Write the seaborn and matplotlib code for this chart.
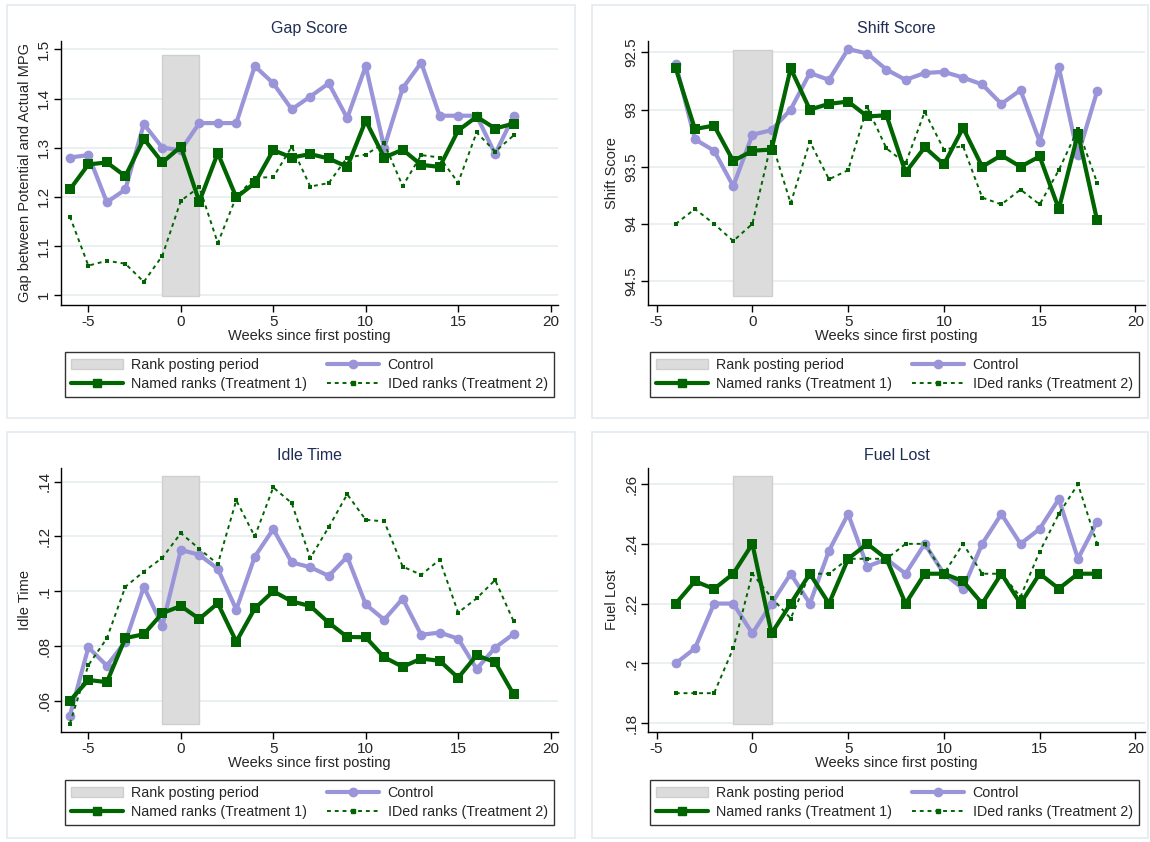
import numpy as np
import pandas as pd
import seaborn as sns
import matplotlib.pyplot as plt
from matplotlib.patches import Rectangle, Patch
from matplotlib.lines import Line2D

# Data
weeks_long = list(range(-6, 19))   # Gap Score, Idle Time
weeks_short = list(range(-4, 19))  # Shift Score, Fuel Lost

gap_control = [1.280, 1.285, 1.189, 1.215, 1.348, 1.300, 1.295, 1.350, 1.350, 1.350, 1.466, 1.431,
               1.378, 1.404, 1.431, 1.360, 1.466, 1.300, 1.421, 1.473, 1.365, 1.365, 1.365, 1.287, 1.365]
gap_named = [1.215, 1.266, 1.270, 1.242, 1.318, 1.270, 1.302, 1.190, 1.289, 1.199, 1.228, 1.295,
             1.280, 1.287, 1.278, 1.261, 1.355, 1.280, 1.296, 1.265, 1.261, 1.335, 1.363, 1.339, 1.349]
gap_ided = [1.160, 1.060, 1.070, 1.064, 1.027, 1.080, 1.192, 1.220, 1.106, 1.200, 1.239, 1.240,
            1.302, 1.221, 1.228, 1.280, 1.286, 1.309, 1.222, 1.285, 1.280, 1.229, 1.331, 1.292, 1.325]

shift_control = [92.60, 93.26, 93.36, 93.67, 93.22, 93.18, 93.00, 92.68, 92.74, 92.47, 92.51, 92.65,
                 92.74, 92.68, 92.67, 92.72, 92.78, 92.95, 92.83, 93.28, 92.63, 93.40, 92.84]
shift_named = [92.64, 93.17, 93.14, 93.45, 93.36, 93.35, 92.64, 93.00, 92.95, 92.93, 93.06, 93.05,
               93.55, 93.33, 93.48, 93.16, 93.50, 93.40, 93.50, 93.41, 93.87, 93.21, 93.97]
shift_ided = [94.00, 93.87, 94.00, 94.15, 94.00, 93.28, 93.82, 93.28, 93.61, 93.53, 92.98, 93.34,
              93.47, 93.02, 93.35, 93.32, 93.77, 93.83, 93.70, 93.83, 93.53, 93.17, 93.64]

idle_control = [0.0546, 0.0795, 0.0728, 0.0816, 0.1016, 0.0874, 0.1151, 0.1133, 0.1082, 0.0933, 0.1126, 0.1227,
                0.1105, 0.1088, 0.1056, 0.1126, 0.0952, 0.0896, 0.0973, 0.0841, 0.0849, 0.0827, 0.0716, 0.0794, 0.0844]
idle_named = [0.0600, 0.0676, 0.0668, 0.0829, 0.0843, 0.0920, 0.0946, 0.0899, 0.0956, 0.0816, 0.0937, 0.1000,
              0.0963, 0.0946, 0.0885, 0.0833, 0.0832, 0.0759, 0.0724, 0.0754, 0.0746, 0.0684, 0.0766, 0.0741, 0.0623]
idle_ided = [0.0517, 0.0730, 0.0828, 0.1016, 0.1072, 0.1122, 0.1212, 0.1155, 0.1099, 0.1332, 0.1200, 0.1379,
             0.1322, 0.1121, 0.1234, 0.1354, 0.1261, 0.1255, 0.1090, 0.1060, 0.1115, 0.0922, 0.0974, 0.1041, 0.0890]

fuel_control = [0.200, 0.205, 0.220, 0.220, 0.210, 0.220, 0.230, 0.220, 0.2377, 0.250, 0.2324, 0.2349,
                0.230, 0.240, 0.230, 0.225, 0.240, 0.250, 0.240, 0.245, 0.255, 0.235, 0.2474]
fuel_named = [0.220, 0.2275, 0.2249, 0.230, 0.240, 0.210, 0.220, 0.230, 0.220, 0.235, 0.240, 0.235,
              0.220, 0.230, 0.230, 0.2275, 0.220, 0.230, 0.220, 0.230, 0.225, 0.230, 0.230]
fuel_ided = [0.190, 0.190, 0.190, 0.205, 0.230, 0.222, 0.215, 0.230, 0.230, 0.235, 0.235, 0.235,
             0.240, 0.240, 0.230, 0.240, 0.230, 0.230, 0.2223, 0.2374, 0.250, 0.260, 0.240]

posting_period = [-1, 1]

panels = [
    dict(title='Gap Score', ylabel='Gap between Potential and Actual MPG', weeks=weeks_long,
         control=gap_control, named=gap_named, ided=gap_ided,
         yticks=[1, 1.1, 1.2, 1.3, 1.4, 1.5], yticklabels=['1', '1.1', '1.2', '1.3', '1.4', '1.5'],
         ylim=(0.980, 1.517), band=(0.9986, 1.4885), xlim=(-6.48, 20.4)),
    dict(title='Shift Score', ylabel='Shift Score', weeks=weeks_short,
         control=shift_control, named=shift_named, ided=shift_ided,
         yticks=[92.5, 93, 93.5, 94, 94.5], yticklabels=['92.5', '93', '93.5', '94', '94.5'],
         ylim=(94.71, 92.40), band=(92.477, 94.628), xlim=(-5.45, 20.5)),
    dict(title='Idle Time', ylabel='Idle Time', weeks=weeks_long,
         control=idle_control, named=idle_named, ided=idle_ided,
         yticks=[0.06, 0.08, 0.10, 0.12, 0.14], yticklabels=['.06', '.08', '.1', '.12', '.14'],
         ylim=(0.0486, 0.145), band=(0.0517, 0.142), xlim=(-6.48, 20.4)),
    dict(title='Fuel Lost', ylabel='Fuel Lost', weeks=weeks_short,
         control=fuel_control, named=fuel_named, ided=fuel_ided,
         yticks=[0.18, 0.20, 0.22, 0.24, 0.26], yticklabels=['.18', '.2', '.22', '.24', '.26'],
         ylim=(0.177, 0.2654), band=(0.1798, 0.2628), xlim=(-5.45, 20.5)),
]

sns.set_theme(style='white')
plt.rcParams['font.family'] = ['Liberation Sans', 'DejaVu Sans']

W, H = 1150, 842
fig = plt.figure(figsize=(11.5, 8.42), dpi=100)

CONTROL = '#9a94d8'
GREEN = '#006400'
BAND = '#dcdcdc'
GRID = '#e6eef0'
TITLE = '#1e2d53'
FS = 10.5

# panel frames (pixels: left, top, right, bottom)
frames = [(7, 5, 575, 418), (592, 5, 1148, 418), (7, 432, 575, 838), (592, 432, 1148, 838)]
# plot areas (pixels)
areas = [(61, 41, 558, 305), (648, 41, 1145, 305), (61, 468, 558, 732), (648, 468, 1145, 732)]
legends = [(65, 351, 554, 398), (651, 351, 1138, 398), (65, 779, 554, 826), (651, 779, 1138, 826)]

for (l, t, r, b) in frames:
    fig.patches.append(Rectangle((l / W, 1 - b / H), (r - l) / W, (b - t) / H, transform=fig.transFigure,
                                 facecolor='none', edgecolor='#e3eaee', lw=1.2, zorder=-5))

for p, (l, t, r, b), (ll, lt, lr, lb) in zip(panels, areas, legends):
    ax = fig.add_axes([l / W, 1 - b / H, (r - l) / W, (b - t) / H])
    ax.patch.set_alpha(0)
    ax.add_patch(Rectangle((posting_period[0], min(p['band'])), posting_period[1] - posting_period[0],
                           abs(p['band'][1] - p['band'][0]), facecolor=BAND, edgecolor='#cfcfcf',
                           lw=1, zorder=1))
    for yv in p['yticks']:
        ax.axhline(yv, color=GRID, lw=1.2, zorder=0)
    sns.lineplot(x=p['weeks'], y=p['control'], ax=ax, color=CONTROL, lw=3, marker='o', markersize=7,
                 markeredgewidth=0, zorder=3)
    sns.lineplot(x=p['weeks'], y=p['named'], ax=ax, color=GREEN, lw=3, marker='s', markersize=7,
                 markeredgewidth=0, zorder=4)
    sns.lineplot(x=p['weeks'], y=p['ided'], ax=ax, color=GREEN, lw=1.4, linestyle=(0, (2, 2)),
                 marker='s', markersize=3, markeredgewidth=0, zorder=5)
    ax.set_xlim(*p['xlim'])
    ax.set_ylim(*p['ylim'])
    ax.set_xticks([-5, 0, 5, 10, 15, 20])
    ax.set_xticklabels(['-5', '0', '5', '10', '15', '20'], fontsize=FS + 0.5)
    ax.set_yticks(p['yticks'])
    ax.set_yticklabels(p['yticklabels'], fontsize=FS + 0.5, rotation=90, va='center')
    ax.tick_params(axis='both', direction='out', length=5, width=1, color='black', pad=2, left=True, bottom=True)
    for side in ['top', 'right']:
        ax.spines[side].set_visible(False)
    for side in ['left', 'bottom']:
        ax.spines[side].set_color('black')
        ax.spines[side].set_linewidth(1)
    ax.set_xlabel('Weeks since first posting', fontsize=FS, labelpad=0)
    ax.set_ylabel(p['ylabel'], fontsize=FS, labelpad=4)
    ax.set_title(p['title'], fontsize=11.5, color=TITLE, pad=6)

    handles = [Patch(facecolor=BAND, edgecolor='#cfcfcf'),
               Line2D([], [], color=GREEN, lw=3, marker='s', markersize=6),
               Line2D([], [], color=CONTROL, lw=3, marker='o', markersize=6),
               Line2D([], [], color=GREEN, lw=1.4, linestyle=(0, (2, 2)), marker='s', markersize=3)]
    labels = ['Rank posting period', 'Named ranks (Treatment 1)', 'Control', 'IDed ranks (Treatment 2)']
    leg = fig.legend(handles, labels, ncol=2, loc='center',
                     bbox_to_anchor=((ll + lr) / 2 / W, 1 - (lt + lb) / 2 / H),
                     fontsize=10.3, frameon=True, fancybox=False, edgecolor='black',
                     handlelength=3.6, columnspacing=1.4, labelspacing=0.35, borderpad=0.45,
                     handletextpad=0.6)
    leg.get_frame().set_linewidth(1)

fig.savefig('out.png', dpi=100)
